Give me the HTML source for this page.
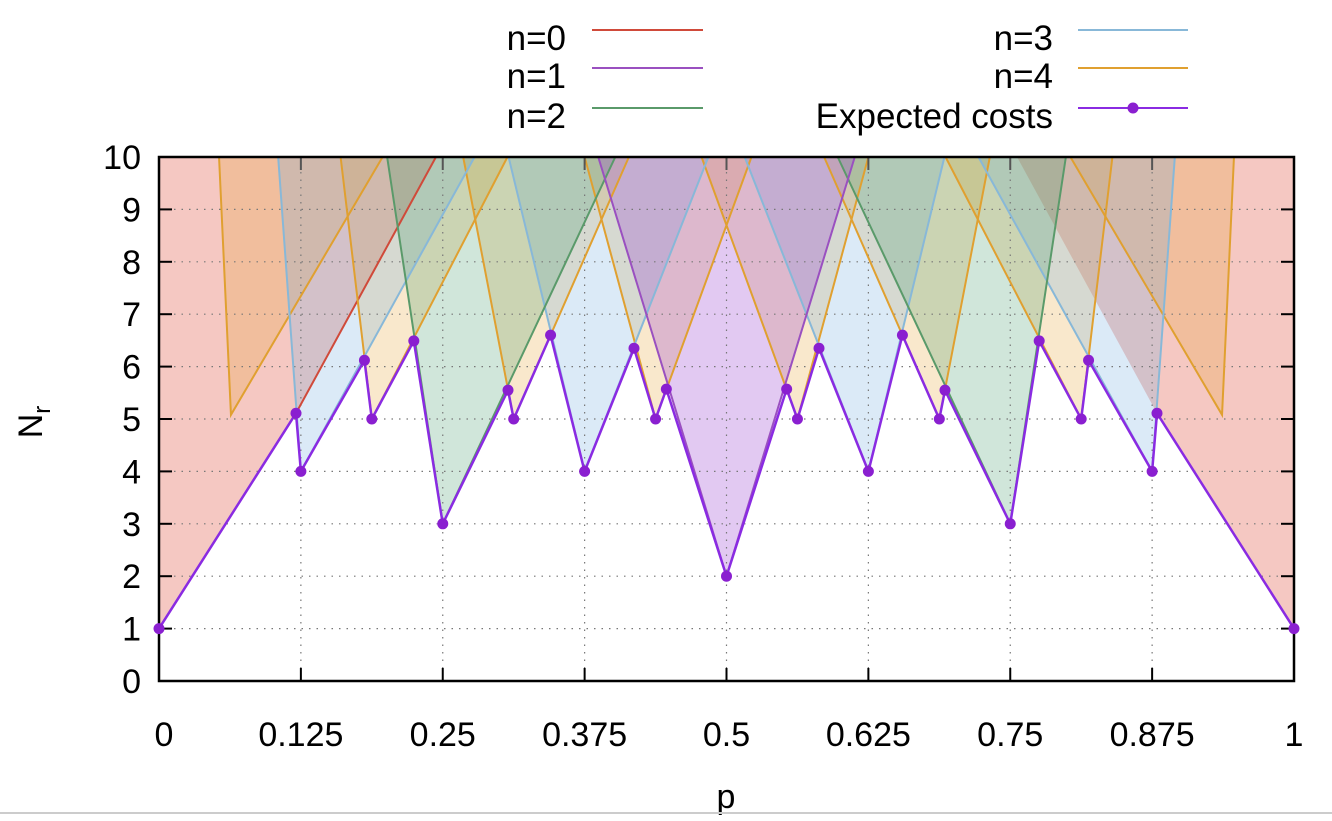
<!DOCTYPE html>
<html><head><meta charset="utf-8"><style>
body{margin:0;background:#fff;width:1332px;height:816px;overflow:hidden;font-family:"Liberation Sans",sans-serif}
svg text{font-family:"Liberation Sans",sans-serif;fill:#000}
</style></head><body>
<svg id="chart" width="1332" height="816" xmlns="http://www.w3.org/2000/svg">
<g id="fills"></g>
<g id="grid"></g>
<g id="lines"></g>
<g id="axes"></g>
<g id="exp"></g>
<g id="legend"></g>
<text x="726" y="808" font-size="34" text-anchor="middle">p</text>
<text transform="translate(42,422) rotate(-90)" font-size="34" text-anchor="middle">N<tspan font-size="24" dy="8">r</tspan></text>
<line x1="0" y1="813" x2="1332" y2="813" stroke="#ccc" stroke-width="2"/>
</svg>
<script>
const xTicks=[0,0.125,0.25,0.375,0.5,0.625,0.75,0.875,1];
const xTickLabels=["0","0.125","0.25","0.375","0.5","0.625","0.75","0.875","1"];
const yTicks=[0,1,2,3,4,5,6,7,8,9,10];
const expP=[0,.1207,.125,.181,.1875,.2245,.25,.3075,.3125,.345,.375,.4185,.4375,.447,.5,.553,.5625,.5815,.625,.655,.6875,.6925,.75,.7755,.8125,.819,.875,.8793,1];
const expN=[1,5.11,4,6.12,5,6.49,3,5.55,5,6.6,4,6.35,5,5.57,2,5.57,5,6.35,4,6.6,5,5.55,3,6.49,5,6.12,4,5.11,1];
// regions: each V = [leftTopP, vertexP, vertexN, rightTopP]
const n0=[[0,0,1,0.244],[0.756,1,1,1]];
const n0Knee=[0.1207,5.11];
const n1=[[0.387,0.5,2,0.613]];
const n2=[[0.201,0.25,3,0.402],[0.598,0.75,3,0.799]];
const n3=[[0.105,0.125,4,0.278],[0.308,0.375,4,0.484],[0.516,0.625,4,0.692],[0.722,0.875,4,0.895]];
const n4=[[0.0529,0.0634,5.08,0.197],[0.160,0.1875,5,0.307],[0.268,0.3125,5,0.414],[0.375,0.4375,5,0.522],[0.478,0.5625,5,0.625],[0.586,0.6875,5,0.732],[0.693,0.8125,5,0.840],[0.803,0.9366,5.08,0.9471]];
const X=p=>159+p*1135, Y=n=>681-n*52.4;
const NS='http://www.w3.org/2000/svg';
function mk(tag,parent,attrs){const e=document.createElementNS(NS,tag);for(const k in attrs)e.setAttribute(k,attrs[k]);document.getElementById(parent).appendChild(e);return e;}
const series=[[n0,'rgba(225,85,65,0.32)','#d04a3a','n0'],[n4,'rgba(232,160,40,0.24)','#e0a030','n4'],[n3,'rgba(110,170,225,0.25)','#88b8d8','n3'],[n2,'rgba(60,150,100,0.24)','#5a9a6a','n2'],[n1,'rgba(150,60,210,0.28)','#9a50c0','n1']];
series.forEach(([vs,fill,stroke,nm])=>{
  vs.forEach((v,i)=>{
    let pts,ls;
    if(nm==='n0'){
      if(i===0){pts=[[0,10],[0,1],n0Knee,[v[3],10]];ls=[[0,1],n0Knee,[v[3],10]];}
      else{pts=[[v[0],10],[1-n0Knee[0],n0Knee[1]],[1,1],[1,10]];ls=null;}
    } else {pts=[[v[0],10],[v[1],v[2]],[v[3],10]];ls=pts;}
    const s=pts.map(q=>X(q[0])+','+Y(q[1])).join(' ');
    const f=mk('polygon','fills',{points:s,fill:fill});
    
    
    if(ls){const l=mk('polyline','lines',{points:ls.map(q=>X(q[0])+','+Y(q[1])).join(' '),fill:'none',stroke:stroke,'stroke-width':2});
    
    }
  });
});
yTicks.forEach(t=>{
  if(t>0&&t<10){const g=mk('line','grid',{x1:159,x2:1294,y1:Y(t),y2:Y(t),stroke:'#777','stroke-width':1.2,'stroke-dasharray':'1.5,6'});
  
  }
  const tk=mk('line','axes',{x1:159,x2:172,y1:Y(t),y2:Y(t),stroke:'#000','stroke-width':2});
  
  
  const tk2=mk('line','axes',{x1:1281,x2:1294,y1:Y(t),y2:Y(t),stroke:'#000','stroke-width':2});
  
  
  const tx=mk('text','axes',{x:141,y:Y(t)+12,'font-size':34,'text-anchor':'end'});
  tx.textContent=t;
  
  
});
xTicks.forEach((t,i)=>{
  if(t>0&&t<1){const g=mk('line','grid',{x1:X(t),x2:X(t),y1:157,y2:681,stroke:'#777','stroke-width':1.2,'stroke-dasharray':'1.5,6'});
  
  }
  const tk=mk('line','axes',{x1:X(t),x2:X(t),y1:668,y2:681,stroke:'#000','stroke-width':2});
  
  
  const tk2=mk('line','axes',{x1:X(t),x2:X(t),y1:157,y2:170,stroke:'#555','stroke-width':2});
  
  
  const tx=mk('text','axes',{x:X(t)+(t===0?5:0),y:746,'font-size':34,'text-anchor':'middle'});
  tx.textContent=xTickLabels[i];
  
  
});
const fr=mk('rect','axes',{x:159,y:157,width:1135,height:524,fill:'none',stroke:'#000','stroke-width':2.5});


const el=mk('polyline','exp',{points:expP.map((p,i)=>X(p)+','+Y(expN[i])).join(' '),fill:'none',stroke:'#8a2be2','stroke-width':2.5});


expP.forEach((p,i)=>{const c=mk('circle','exp',{cx:X(p),cy:Y(expN[i]),r:5.5,fill:'#8a1fd0'});

});
const leg=[['n=0',566,592,703,30,'#d04a3a',false],['n=1',566,592,703,68,'#9a50c0',false],['n=2',566,592,703,108,'#5a9a6a',false],['n=3',1053,1078,1188,30,'#88b8d8',false],['n=4',1053,1078,1188,68,'#e0a030',false],['Expected costs',1053,1078,1188,108,'#8a2be2',true]];
leg.forEach(([lab,tx,x1,x2,y,col,pt])=>{
  const t=mk('text','legend',{x:tx,y:y+20,'font-size':35,'text-anchor':'end'});t.textContent=lab;
  
  
  const l=mk('line','legend',{x1:x1,x2:x2,y1:y,y2:y,stroke:col,'stroke-width':2});
  
  
  if(pt){const c=mk('circle','legend',{cx:(x1+x2)/2,cy:y,r:5.5,fill:'#8a1fd0'});
  
  }
});
</script>
</body></html>
